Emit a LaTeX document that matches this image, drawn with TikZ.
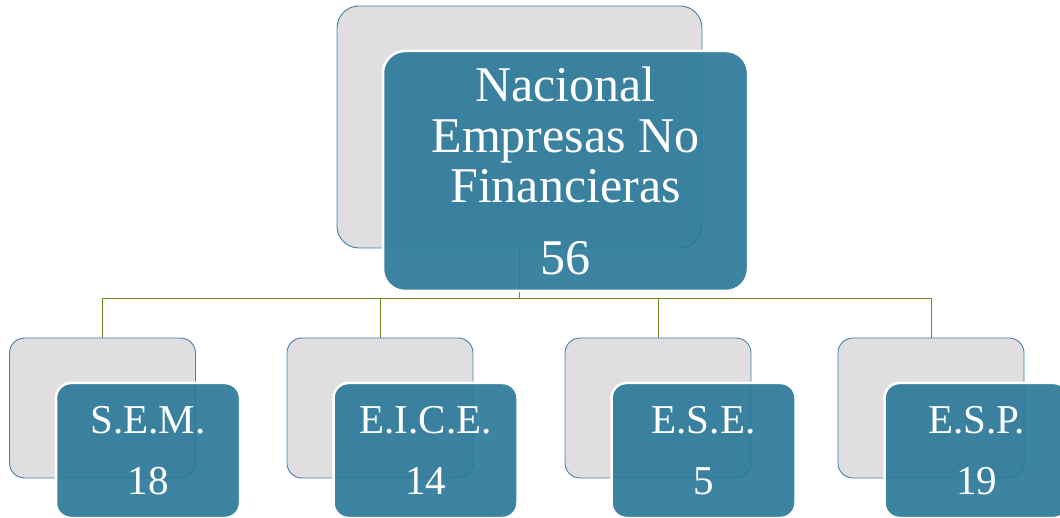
\documentclass[tikz,border=0pt]{standalone}
\usepackage{fontspec}
\setmainfont{Liberation Serif}
\usetikzlibrary{positioning,backgrounds}
\definecolor{boxgrey}{RGB}{224,222,225}
\definecolor{boxline}{RGB}{66,130,168}
\definecolor{boxblue}{RGB}{40,119,153}
\definecolor{linkgreen}{RGB}{107,142,35}

\begin{document}
\begin{tikzpicture}[x=1pt,y=-1pt]
\tikzstyle{back}=[draw=boxline, fill=boxgrey, line width=0.9pt, rounded corners=15pt, minimum width=186pt, minimum height=140pt, inner sep=0pt]
\tikzstyle{front}=[draw=white, line width=2.5pt, fill=boxblue, fill opacity=0.9, text opacity=1, text=white, rounded corners=15pt, minimum width=184pt, minimum height=135pt, inner sep=0pt, align=center, font=\fontsize{41}{61}\selectfont]
\tikzstyle{link}=[draw=linkgreen, line width=0.9pt]
\clip (0,0) rectangle (1060,518);
\node[back, minimum width=365pt, minimum height=242pt, rounded corners=22pt] (bnac) at (519.5,127){};
\node[front, minimum width=365pt, minimum height=240pt, rounded corners=22pt, font=\fontsize{50}{50.5}\selectfont] (nac) at ([shift={(46,44)}]bnac.center) {Nacional\\Empresas No\\Financieras\\[21pt]56};
\foreach \x/\n/\t/\v in {102.5/sem/S.E.M./18,380/eice/E.I.C.E./14,658/ese/E.S.E./5,931/esp/E.S.P./19}{
\node[back] (b\n) at (\x,408){};
\node[front] (\n) at ([shift={(45.5,42.5)}]b\n.center) {\t\\\v};
}
\begin{scope}[on background layer]
\foreach \n in {sem,eice,ese,esp}{\draw[link] (bnac.south) -- ++(0,50) -| (b\n.north);}
\end{scope}
\end{tikzpicture}
\end{document}
